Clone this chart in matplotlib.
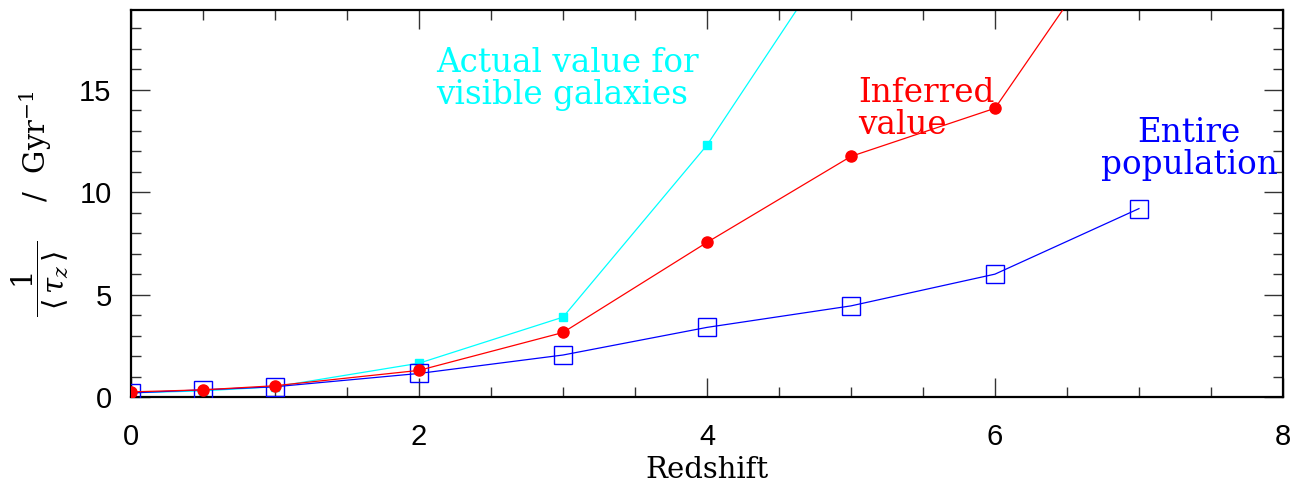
import numpy as np
import matplotlib
matplotlib.use("Agg")
import matplotlib.pyplot as plt
from matplotlib.ticker import MultipleLocator

# rates 1/<tau_z> in Gyr^-1 against redshift
z_actual = [0, 0.5, 1, 2, 3, 4, 5]
rate_actual = [0.2, 0.3, 0.5, 1.65, 3.9, 12.3, 22.9]

z_inferred = [0, 0.5, 1, 2, 3, 4, 5, 6, 7]
rate_inferred = [0.25, 0.35, 0.55, 1.3, 3.15, 7.55, 11.75, 14.1, 24.3]

z_entire = [0, 0.5, 1, 2, 3, 4, 5, 6, 7]
rate_entire = [0.2, 0.35, 0.5, 1.15, 2.05, 3.4, 4.45, 6.0, 9.2]

serif = "DejaVu Serif"
plt.rcParams["mathtext.fontset"] = "dejavuserif"

fig = plt.figure(figsize=(13.13, 4.87), dpi=100)
ax = fig.add_axes([0.0998, 0.1848, 0.8773, 0.7947])

ax.plot(z_actual, rate_actual, color="#00ffff", lw=0.9, marker="s", ms=5.5,
        mec="#00ffff", mfc="#00ffff", zorder=2)
ax.plot(z_entire, rate_entire, color="#0000ff", lw=0.9, marker="s", ms=12.5,
        mfc="none", mec="#0000ff", mew=1.0, zorder=3)
ax.plot(z_inferred, rate_inferred, color="#ff0000", lw=0.9, marker="o", ms=8,
        mec="#ff0000", mfc="#ff0000", zorder=4)

ax.set_xlim(0, 8)
ax.set_ylim(0, 18.9)
ax.xaxis.set_major_locator(MultipleLocator(2))
ax.xaxis.set_minor_locator(MultipleLocator(0.5))
ax.yaxis.set_major_locator(MultipleLocator(5))
ax.yaxis.set_minor_locator(MultipleLocator(1))
ax.tick_params(which="both", direction="in", top=True, right=True,
               width=1.0, color="#333333")
ax.tick_params(which="major", length=14)
ax.tick_params(which="minor", length=7)
ax.tick_params(axis="x", which="major", pad=19)
ax.tick_params(axis="y", which="major", pad=14)
for lab in ax.get_xticklabels() + ax.get_yticklabels():
    lab.set_fontfamily("Liberation Sans")
    lab.set_fontsize(21)
for sp in ax.spines.values():
    sp.set_linewidth(1.6)

ax.set_xlabel("Redshift", family=serif, fontsize=21, labelpad=3)
ax.set_ylabel(r"$\dfrac{1}{\;\langle\,\tau_z\,\rangle\;}$    /  Gyr$^{-1}$",
              family=serif, fontsize=21, labelpad=6)

# labels are anchored at the baseline of their second line
ax.text(2.12, 14.3, "Actual value for\nvisible galaxies", color="#00ffff",
        family=serif, fontsize=23.5, ha="left", va="baseline", linespacing=1.0)
ax.text(5.05, 12.84, "Inferred\nvalue", color="#ff0000",
        family=serif, fontsize=23.5, ha="left", va="baseline", linespacing=1.0)
ax.text(7.35, 10.88, "Entire\npopulation", color="#0000ff",
        family=serif, fontsize=23.5, ha="center", va="baseline", linespacing=1.0,
        multialignment="center")

fig.savefig("out.png", dpi=100)
